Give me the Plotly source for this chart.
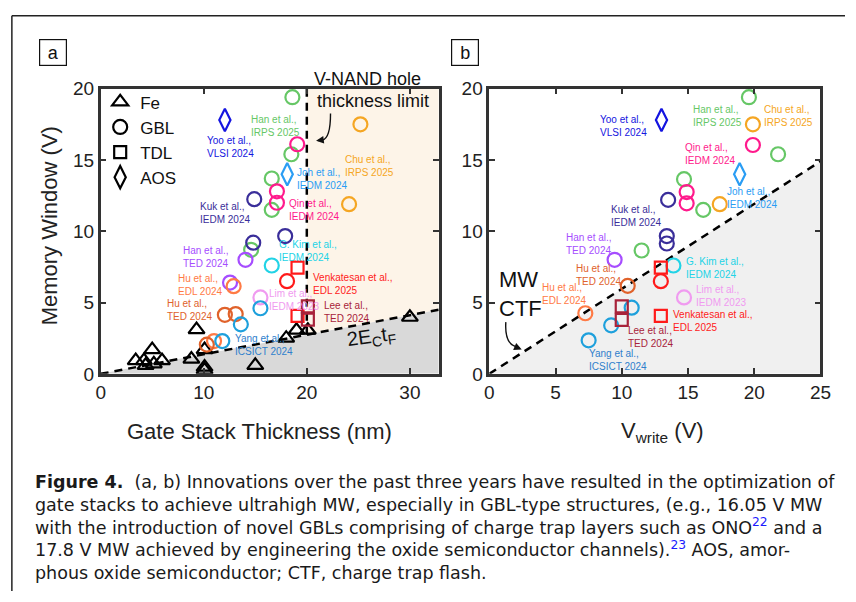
import plotly.graph_objects as go

FONT = "Liberation Sans, Arial, sans-serif"
CAP_FONT = "DejaVu Sans, Liberation Sans, sans-serif"
W, H = 856, 602

# ---------------- Panel a data (gate stack thickness nm, MW V) ----------------
fe_x = [3.4, 4.2, 5.0, 4.36, 5.16, 5.95, 8.8, 9.3, 10.08, 10.08, 10.08, 15.0, 18.0, 19.0, 20.1, 30.0]
fe_y = [0.93, 0.93, 1.7, 0.6, 0.7, 0.93, 1.03, 3.1, 1.7, 0.47, 0.27, 0.6, 2.5, 3.06, 3.06, 3.97]

# circle groups: name -> (color, xa, ya, xb, yb)
gbl_groups = {
    "green":   ("#66C766", [18.6, 18.5, 16.6, 16.6, 14.6], [19.4, 15.4, 13.7, 11.5, 8.7],
                            [19.6, 21.8, 14.7, 16.15, 11.5], [19.4, 15.4, 13.65, 11.5, 8.65]),
    "orange":  ("#F5A623", [25.2, 24.1], [17.5, 11.9], [19.9, 17.4], [17.5, 11.9]),
    "magenta": ("#FF1A8C", [19.07, 17.1, 17.1], [16.1, 12.8, 12.0], [19.9, 14.9, 14.9], [16.05, 12.75, 11.96]),
    "indigo":  ("#3A2E9A", [14.9, 17.9, 14.8], [12.25, 9.66, 9.2], [13.5, 13.4, 13.4], [12.2, 9.66, 9.14]),
    "purple":  ("#A64DFF", [14.05, 12.55], [8.0, 6.4], [9.46], [8.0]),
    "cyan":    ("#22D3E6", [16.6], [7.6], [13.9], [7.6]),
    "red":     ("#FF1A1A", [18.08], [6.5], [12.95], [6.5]),
    "hu_edl":  ("#FF7A45", [12.9, 11.0], [6.15, 2.3], [7.25], [4.25]),
    "hu_ted":  ("#E0622B", [12.05, 13.1, 10.3], [4.14, 4.19, 2.05], [10.45], [6.17]),
    "violet":  ("#F09BF0", [15.5], [5.36], [14.7], [5.36]),
    "ltblue":  ("#1EA0DC", [15.5, 13.6, 11.8], [4.6, 3.47, 2.3], [10.75, 9.2, 7.5], [4.64, 3.4, 2.35]),
}
tdl_groups = {
    "red":     ("#FF1A1A", [19.1, 19.1], [7.45, 4.07], [12.95, 12.95], [7.45, 4.07]),
    "darkred": ("#A8233A", [20.1, 20.1], [4.73, 3.8], [10.0, 10.0], [4.73, 3.78]),
}
aos_groups = {
    "blue":    ("#1515E0", [12.05], [17.8], [13.0], [17.8]),
    "skyblue": ("#2A9DF4", [18.1], [14.0], [18.9], [14.0]),
}

# boundary lines
ectf_x, ectf_y = [0, 32.8], [0, 4.5]          # 2EcTf line, panel a
vnand_x, vnand_y = [20, 20], [2.75, 20]       # V-NAND hole thickness limit
ctf_x, ctf_y = [0, 25], [0, 14.9]             # MW CTF line, panel b
XMAX_A, XMAX_B, YMAX = 32.8, 25, 20

# labels: (text, color, xa, ya, xb, yb)
labels = [
    ("Han et al.,<br>IRPS 2025", "#66C766", 16.95, 17.36, 17.2, 18.07),
    ("Yoo et al.,<br>VLSI 2024", "#1515E0", 12.57, 15.88, 10.15, 17.36),
    ("Joh et al.,<br>IEDM 2024", "#2A9DF4", 21.5, 13.68, 19.85, 12.3),
    ("Chu et al.,<br>IRPS 2025", "#F5A623", 26.1, 14.6, 22.58, 18.07),
    ("Kuk et al.,<br>IEDM 2024", "#3A2E9A", 12.1, 11.28, 11.07, 11.1),
    ("Qin et al.,<br>IEDM 2024", "#FF1A8C", 20.7, 11.5, 16.64, 15.4),
    ("Han et al.,<br>TED 2024", "#A64DFF", 10.24, 8.18, 7.49, 9.12),
    ("G. Kim et al.,<br>IEDM 2024", "#22D3E6", 20.1, 8.58, 17.05, 7.4),
    ("Hu et al.,<br>EDL 2024", "#FF7A45", 9.71, 6.22, 5.65, 5.6),
    ("Venkatesan et al.,<br>EDL 2025", "#FF1A1A", 24.5, 6.28, 16.86, 3.68),
    ("Lim et al.,<br>IEDM 2023", "#F09BF0", 18.8, 5.2, 17.5, 5.47),
    ("Hu et al.,<br>TED 2024", "#E0622B", 8.62, 4.46, 8.23, 6.96),
    ("Lee et al.,<br>TED 2024", "#A8233A", 23.86, 4.36, 12.14, 2.57),
    ("Yang et al.,<br>ICSICT 2024", "#2F7FCC", 15.8, 2.03, 9.7, 0.98),
]

caption_lines = [
    "<b>Figure 4.</b>  (a, b) Innovations over the past three years have resulted in the optimization of",
    "gate stacks to achieve ultrahigh MW, especially in GBL-type structures, (e.g., 16.05 V MW",
    "with the introduction of novel GBLs comprising of charge trap layers such as ONO<sup><span style='color:#1a1aff'>22</span></sup> and a",
    "17.8 V MW achieved by engineering the oxide semiconductor channels).<sup><span style='color:#1a1aff'>23</span></sup> AOS, amor-",
    "phous oxide semiconductor; CTF, charge trap flash.",
]

fig = go.Figure()

# ---- background regions ----
fig.add_trace(go.Scatter(x=[vnand_x[0], XMAX_A, XMAX_A, vnand_x[0]],
                         y=[vnand_y[0], ectf_y[1], YMAX, YMAX], fill="toself",
                         fillcolor="#FDF4E8", line=dict(width=0), mode="lines",
                         hoverinfo="skip", showlegend=False, xaxis="x", yaxis="y"))
fig.add_trace(go.Scatter(x=[ectf_x[0], ectf_x[1], ectf_x[1]], y=[ectf_y[0], ectf_y[1], 0],
                         fill="toself", fillcolor="#D9D9D9", line=dict(width=0), mode="lines",
                         hoverinfo="skip", showlegend=False, xaxis="x", yaxis="y"))
fig.add_trace(go.Scatter(x=[ctf_x[0], ctf_x[1], ctf_x[1]], y=[ctf_y[0], ctf_y[1], 0],
                         fill="toself", fillcolor="#F0F0F0", line=dict(width=0), mode="lines",
                         hoverinfo="skip", showlegend=False, xaxis="x2", yaxis="y2"))

dash_line = dict(color="black", width=2.5, dash="8px,6px")
fig.add_trace(go.Scatter(x=ectf_x, y=ectf_y, mode="lines", line=dash_line,
                         showlegend=False, xaxis="x", yaxis="y"))
fig.add_trace(go.Scatter(x=vnand_x, y=vnand_y, mode="lines", line=dash_line,
                         showlegend=False, xaxis="x", yaxis="y"))
fig.add_trace(go.Scatter(x=ctf_x, y=ctf_y, mode="lines", line=dash_line,
                         showlegend=False, xaxis="x2", yaxis="y2"))

# ---- markers ----
fig.add_trace(go.Scatter(x=fe_x, y=fe_y, mode="markers", showlegend=False,
                         marker=dict(symbol="triangle-up-open", size=14, color="black",
                                     line=dict(width=2.2)), xaxis="x", yaxis="y"))

def add_group(groups, symbol, size):
    for key, (col, xa, ya, xb, yb) in groups.items():
        m = dict(symbol=symbol, size=size, color=col, line=dict(width=2.2))
        fig.add_trace(go.Scatter(x=xa, y=ya, mode="markers", marker=m, showlegend=False,
                                 xaxis="x", yaxis="y"))
        fig.add_trace(go.Scatter(x=xb, y=yb, mode="markers", marker=m, showlegend=False,
                                 xaxis="x2", yaxis="y2"))

add_group(gbl_groups, "circle-open", 14)
add_group(tdl_groups, "square-open", 12)
add_group(aos_groups, "diamond-tall-open", 16)

# legend entries
for name, sym, sz in [("Fe", "triangle-up-open", 14), ("GBL", "circle-open", 14),
                      ("TDL", "square-open", 12), ("AOS", "diamond-tall-open", 16)]:
    fig.add_trace(go.Scatter(x=[None], y=[None], mode="markers", name=name,
                             marker=dict(symbol=sym, size=sz, color="black", line=dict(width=2.2)),
                             xaxis="x", yaxis="y"))

# ---- axes ----
ydom = [1 - 377 / H, 1 - 81.5 / H]
axis_common = dict(showgrid=False, zeroline=False, ticks="inside", ticklen=6, tickwidth=2,
                   tickcolor="#333", showline=True, linecolor="#333", linewidth=2.5,
                   mirror="ticks", tickfont=dict(family=FONT, size=19, color="#222"))
fig.update_layout(
    xaxis=dict(domain=[97.5 / W, 442 / W], range=[0, XMAX_A], tickvals=[0, 10, 20, 30],
               anchor="y", **axis_common),
    yaxis=dict(domain=ydom, range=[0, YMAX], tickvals=[0, 5, 10, 15, 20], anchor="x", **axis_common),
    xaxis2=dict(domain=[493.5 / W, 831 / W], range=[0, XMAX_B], tickvals=[0, 5, 10, 15, 20, 25],
                anchor="y2", **axis_common),
    yaxis2=dict(domain=ydom, range=[0, YMAX], tickvals=[0, 5, 10, 15, 20], anchor="x2", **axis_common),
)

C = dict(xanchor="center", yanchor="middle", showarrow=False)

ann = []
for text, col, xa, ya, xb, yb in labels:
    for (xx, yy, xr, yr) in [(xa, ya, "x", "y"), (xb, yb, "x2", "y2")]:
        ann.append(dict(text=text, x=xx, y=yy, xref=xr, yref=yr, align="left",
                        font=dict(family=FONT, size=10, color=col), **C))

def P(px, py, **kw):
    d = dict(x=px / W, y=1 - py / H, xref="paper", yref="paper")
    d.update(kw)
    return d

ann += [
    P(369, 71.5, text="V-NAND hole", font=dict(family=FONT, size=18, color="#111"), **C),
    P(375, 94.5, text="thickness limit", font=dict(family=FONT, size=18, color="#111"), **C),
    P(373, 339, text="2E<sub>C</sub>t<sub>F</sub>", textangle=-8,
      font=dict(family=FONT, size=20, color="#111"), **C),
    P(525, 294, text="MW<br>CTF", align="left", font=dict(family=FONT, size=22, color="#111"), **C),
    # arrowheads for curved arrows
    dict(x=20.9, y=16.35, xref="x", yref="y", ax=21.7, ay=16.42, axref="x", ayref="y", text="",
         showarrow=True, arrowhead=2, arrowsize=1.1, arrowwidth=1.4, arrowcolor="#111"),
    dict(x=2.45, y=1.71, xref="x2", yref="y2", ax=1.85, ay=1.95, axref="x2", ayref="y2", text="",
         showarrow=True, arrowhead=2, arrowsize=1.1, arrowwidth=1.4, arrowcolor="#111"),
    # panel letters
    P(49, 44.5, text="a", font=dict(family=FONT, size=18, color="#111"), bordercolor="#111",
      borderwidth=1.2, borderpad=2, width=22, height=21, **C),
    P(468.5, 44.5, text="b", font=dict(family=FONT, size=18, color="#111"), bordercolor="#111",
      borderwidth=1.2, borderpad=2, width=22, height=21, **C),
    # axis titles
    P(45, 224, text="Memory Window (V)", textangle=-90, font=dict(family=FONT, size=22, color="#222"), **C),
    P(259, 437, text="Gate Stack Thickness (nm)", font=dict(family=FONT, size=22, color="#222"), **C),
    P(670, 437, text="V<sub>write</sub> (V)", font=dict(family=FONT, size=22, color="#222"), **C),
    # caption
    P(29, 536, text="<br>".join(caption_lines), xanchor="left", yanchor="middle", align="left",
      showarrow=False, font=dict(family=CAP_FONT, size=17.5, color="#1a1a1a")),
]

shapes = [
    # curved arrow bodies
    dict(type="path", xref="x", yref="y", path="M 22.3,18.26 Q 22.3,16.5 21.5,16.4",
         line=dict(color="#111", width=1.4)),
    dict(type="path", xref="x2", yref="y2", path="M 1.25,3.63 Q 1.15,2.2 1.95,1.92",
         line=dict(color="#111", width=1.4)),
    # figure frame (top and left edges)
    dict(type="line", xref="paper", yref="paper", x0=7 / W, x1=1, y0=1 - 6 / H, y1=1 - 6 / H,
         line=dict(color="#222", width=1.5)),
    dict(type="line", xref="paper", yref="paper", x0=7 / W, x1=7 / W, y0=0, y1=1 - 6 / H,
         line=dict(color="#222", width=1.5)),
]

fig.update_layout(
    width=W, height=H, margin=dict(l=0, r=0, t=0, b=0),
    paper_bgcolor="white", plot_bgcolor="white",
    annotations=ann, shapes=shapes,
    showlegend=True,
    legend=dict(x=97 / W, y=1 - 77 / H, xanchor="left", yanchor="top", bgcolor="rgba(0,0,0,0)",
                font=dict(family=FONT, size=17, color="#111"), itemwidth=30, tracegroupgap=0),
)

fig.write_html("out.html")
